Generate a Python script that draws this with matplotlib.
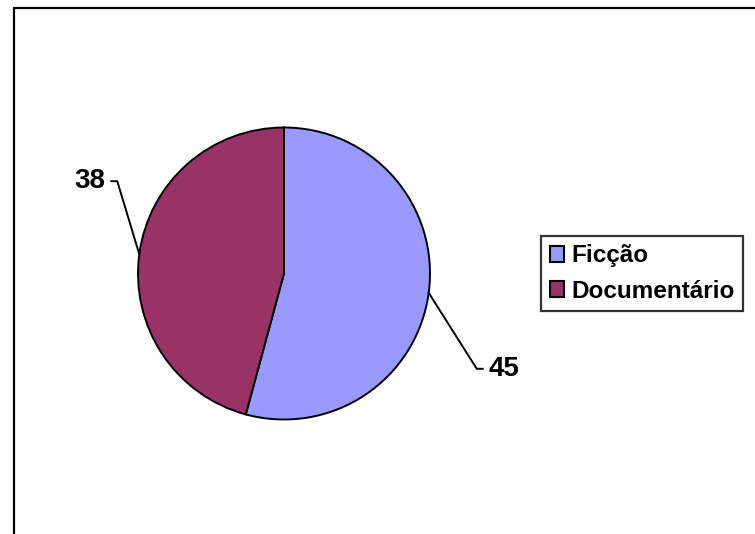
import numpy as np
import matplotlib
matplotlib.use("Agg")
import matplotlib.pyplot as plt
from matplotlib.patches import Rectangle

plt.rcParams["font.family"] = ["Liberation Sans", "DejaVu Sans"]

categories = ["Ficção", "Documentário"]
values = [45, 38]
colors = ["#9999FF", "#993366"]

W, H = 755, 534
fig = plt.figure(figsize=(W / 100, H / 100), dpi=100)
ax = fig.add_axes([0, 0, 1, 1])

# pie center/radius in pixel units (y measured from bottom)
cx, cy, r = 284, H - 273.5, 146
wedges, _ = ax.pie(values, colors=colors, startangle=90, counterclock=False,
                   center=(cx, cy), radius=r,
                   wedgeprops=dict(edgecolor="black", linewidth=1.4))
ax.set_xlim(0, W)
ax.set_ylim(0, H)
ax.set_aspect("equal")
ax.axis("off")

# leader lines + value labels
offsets = [(48, -76, 6), (-22, 73, -6)]  # (dx, dy, horizontal tail)
for w, v, (dx, dy, tail) in zip(wedges, values, offsets):
    ang = np.deg2rad((w.theta1 + w.theta2) / 2)
    x0, y0 = cx + r * np.cos(ang), cy + r * np.sin(ang)
    x1, y1 = x0 + dx, y0 + dy
    ax.plot([x0, x1, x1 + tail], [y0, y1, y1], color="black", lw=1.4)
    ha = "left" if tail > 0 else "right"
    ax.text(x1 + tail + (6 if tail > 0 else -6), y1, str(v), ha=ha, va="center",
            fontsize=20, fontweight="bold")

leg = fig.legend(wedges, categories, loc="center left",
                 bbox_to_anchor=(541 / W, 1 - 273.5 / H),
                 prop=dict(family="Liberation Sans", weight="bold", size=17.5),
                 frameon=True, fancybox=False, edgecolor="black",
                 handlelength=0.6, handleheight=0.6, handletextpad=0.3,
                 borderpad=0.35, labelspacing=0.5, borderaxespad=0)
leg.get_frame().set_linewidth(1.6)
for h in leg.legend_handles:
    h.set_edgecolor("black")
    h.set_linewidth(1.5)

# outer chart border (runs off the right and bottom edges)
fig.patches.append(Rectangle((13.5 / W, -0.1), 1.2, 1 - 8.5 / H + 0.1,
                             transform=fig.transFigure, fill=False,
                             edgecolor="black", linewidth=1.6))

fig.savefig("out.png", dpi=100)
